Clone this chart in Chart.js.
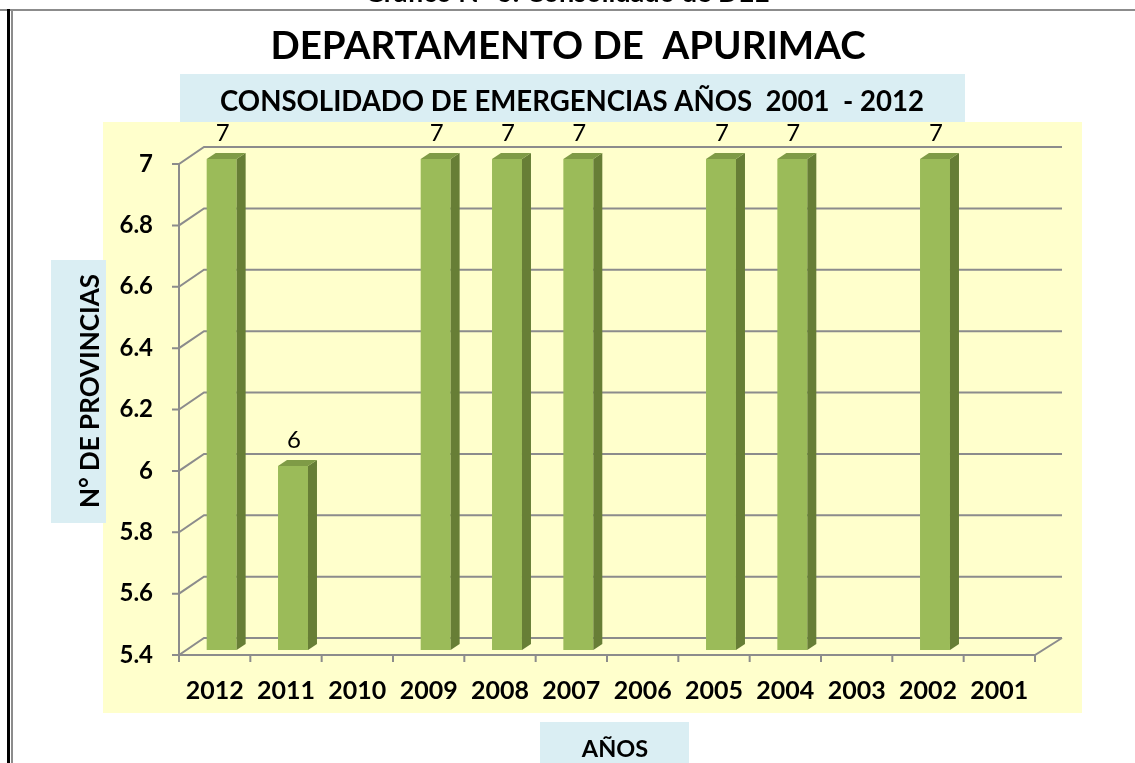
<!DOCTYPE html>
<html>
<head>
<meta charset="utf-8">
<title>Departamento de Apurimac</title>
<script src="https://cdn.jsdelivr.net/npm/chart.js@4.4.1/dist/chart.umd.min.js"></script>
<style>
    html, body { margin: 0; padding: 0; background: #fff; }
    #emergenciasChart { display: block; }
</style>
</head>
<body>
<canvas id="emergenciasChart" width="1135" height="763"></canvas>
<script>
// Data
const years = ['2012', '2011', '2010', '2009', '2008', '2007', '2006', '2005', '2004', '2003', '2002', '2001'];
const provincias = [7, 6, null, 7, 7, 7, null, 7, 7, null, 7, null];
const yTicks = [5.4, 5.6, 5.8, 6, 6.2, 6.4, 6.6, 6.8, 7];

const FONT = 'Lato, "Open Sans", sans-serif';
const GRID = '#8c8c8c';
// 3d offsets (back wall and bar depth)
const WALL_DX = 25, WALL_DY = -17;
const BAR_DX = 7, BAR_DY = -5;
const SIDE_DX = 9, SIDE_DY = -6;

// background, frame, boxes and titles
const decorPlugin = {
    id: 'decor',
    beforeDraw: chart => {
        const c = chart.ctx;
        c.save();
        c.fillStyle = '#ffffff';
        c.fillRect(0, 0, chart.width, chart.height);

        // frame of the page
        c.fillStyle = GRID;
        c.fillRect(0, 9, chart.width, 2);
        c.fillRect(11, 9, 2, chart.height);
        c.fillStyle = '#000';
        c.fillRect(7, 9, 3, chart.height);

        // caption cut by the top of the page
        c.fillStyle = '#000';
        c.font = 'bold 27px ' + FONT;
        c.textAlign = 'center';
        c.textBaseline = 'alphabetic';
        c.fillText('Gráfico N° 6: Consolidado de DEE', 567, 2);

        // plot background
        c.fillStyle = '#ffffcc';
        c.fillRect(103, 122, 979, 591);

        // blue boxes
        c.fillStyle = '#daeef3';
        c.fillRect(180, 74, 785, 48);
        c.fillRect(51, 260, 55, 263);
        c.fillRect(540, 722, 149, 41);

        c.fillStyle = '#000';
        c.font = 'bold 38.5px ' + FONT;
        c.fillText('DEPARTAMENTO DE  APURIMAC', 568, 59);

        c.font = 'bold 27.6px ' + FONT;
        c.fillText('CONSOLIDADO DE EMERGENCIAS AÑOS  2001  - 2012', 572, 111);

        c.font = 'bold 23.5px ' + FONT;
        c.fillText('AÑOS', 615, 757);

        c.translate(99, 391);
        c.rotate(-Math.PI / 2);
        c.font = 'bold 26px ' + FONT;
        c.fillText('N° DE PROVINCIAS', 0, 0);
        c.restore();
    }
};

// back wall, side wall, floor and the bar 3d faces
const threeDPlugin = {
    id: 'threeD',
    beforeDatasetsDraw: chart => {
        const c = chart.ctx;
        const area = chart.chartArea;
        const yScale = chart.scales.y;
        c.save();
        c.strokeStyle = GRID;
        c.lineWidth = 2;
        c.beginPath();
        yScale.ticks.forEach(t => {
            const y = yScale.getPixelForValue(t.value);
            // tick mark
            c.moveTo(area.left - 7, y);
            c.lineTo(area.left, y);
            // side wall
            c.lineTo(area.left + WALL_DX, y + WALL_DY);
            // back wall
            c.lineTo(area.right + WALL_DX + 2, y + WALL_DY);
        });
        // front axis
        c.moveTo(area.left, area.top);
        c.lineTo(area.left, area.bottom);
        // floor
        c.lineTo(area.right, area.bottom);
        c.lineTo(area.right + WALL_DX + 2, area.bottom + WALL_DY);
        // category ticks
        const step = (area.right - area.left) / years.length;
        for (let i = 0; i <= years.length; i++) {
            const x = area.left + i * step;
            c.moveTo(x, area.bottom);
            c.lineTo(x, area.bottom + 7);
        }
        c.stroke();
        c.restore();

        c.save();
        c.translate(BAR_DX, BAR_DY);
    },
    afterDatasetsDraw: chart => {
        const c = chart.ctx;
        c.restore();
        const area = chart.chartArea;
        const meta = chart.getDatasetMeta(0);
        c.save();
        meta.data.forEach((bar, i) => {
            if (provincias[i] === null) return;
            const left = bar.x - bar.width / 2 + BAR_DX;
            const right = bar.x + bar.width / 2 + BAR_DX;
            const top = bar.y + BAR_DY;
            const base = Math.min(bar.base, area.bottom) + BAR_DY;

            // side face
            c.fillStyle = '#677e36';
            c.beginPath();
            c.moveTo(right, top);
            c.lineTo(right + SIDE_DX, top + SIDE_DY);
            c.lineTo(right + SIDE_DX, base + SIDE_DY);
            c.lineTo(right, base);
            c.closePath();
            c.fill();

            // top face
            c.fillStyle = '#7f9b46';
            c.beginPath();
            c.moveTo(left, top);
            c.lineTo(left + SIDE_DX, top + SIDE_DY);
            c.lineTo(right + SIDE_DX, top + SIDE_DY);
            c.lineTo(right, top);
            c.closePath();
            c.fill();

            // value label
            c.fillStyle = '#000';
            c.font = '24px ' + FONT;
            c.textAlign = 'center';
            c.textBaseline = 'middle';
            c.fillText(String(provincias[i]), bar.x + BAR_DX + 1, bar.y - 31);
        });
        c.restore();
    }
};

window.addEventListener('DOMContentLoaded', () => {
    const ctx = document.getElementById('emergenciasChart').getContext('2d');

    new Chart(ctx, {
        type: 'bar',
        data: {
            labels: years,
            datasets: [{
                label: 'N° de provincias',
                data: provincias,
                backgroundColor: '#9bbb59',
                borderWidth: 0,
                categoryPercentage: 1,
                barPercentage: 0.42
            }]
        },
        options: {
            responsive: false,
            animation: false,
            devicePixelRatio: 1,
            layout: {
                padding: { top: 164, right: 100, bottom: 48, left: 0 }
            },
            plugins: {
                legend: { display: false },
                title: { display: false },
                tooltip: { enabled: false }
            },
            scales: {
                x: {
                    grid: { display: false, drawTicks: false },
                    border: { display: false },
                    ticks: {
                        color: '#000',
                        padding: 21,
                        maxRotation: 0,
                        font: { family: FONT, size: 25, weight: 'bold' }
                    },
                    afterFit: scale => { scale.height = 60; }
                },
                y: {
                    min: 5.4,
                    max: 7,
                    grid: { display: false, drawTicks: false },
                    border: { display: false },
                    afterBuildTicks: scale => {
                        scale.ticks = yTicks.map(v => ({ value: v }));
                    },
                    ticks: {
                        color: '#000',
                        padding: 26,
                        font: { family: FONT, size: 24, weight: 'bold' },
                        callback: value => String(Number(value.toFixed(1)))
                    },
                    afterFit: scale => { scale.width = 179; }
                }
            }
        },
        plugins: [decorPlugin, threeDPlugin]
    });
});
</script>
</body>
</html>
